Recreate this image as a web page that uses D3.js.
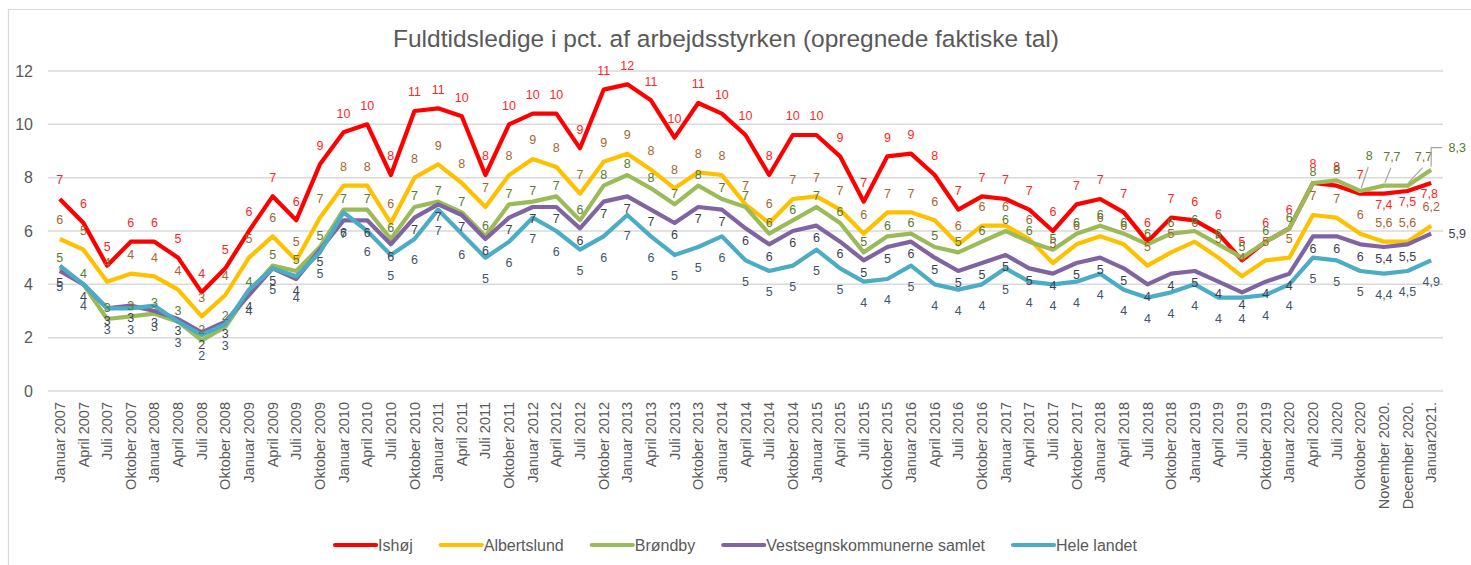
<!DOCTYPE html>
<html>
<head>
<meta charset="utf-8">
<script src="https://cdn.jsdelivr.net/npm/d3@7"></script>
<style>
  body { margin: 0; background: #fff; }
  text { font-family: "Liberation Sans", Arial, sans-serif; }
</style>
</head>
<body>
<div class="container"></div>
<script>
// ===== DATA =====
var quarters = ["Januar", "April", "Juli", "Oktober"];
var categories = [];
for (var yr = 2007; yr <= 2020; yr++) {
  quarters.forEach(function(q) { categories.push(q + " " + yr); });
}
categories.push("November 2020.", "December 2020.", "Januar2021.");

var seriesNames = ["Ishøj", "Albertslund", "Brøndby", "Vestsegnskommunerne samlet", "Hele landet"];

var ishoj = [7.2, 6.3, 4.7, 5.6, 5.6, 5.0, 3.7, 4.6, 6.0, 7.3, 6.4,
  8.5, 9.7, 10.0, 8.1, 10.5, 10.6, 10.3, 8.1, 10.0, 10.4, 10.4,
  9.1, 11.3, 11.5, 10.9, 9.5, 10.8, 10.4, 9.6, 8.1, 9.6, 9.6, 8.8,
  7.1, 8.8, 8.9, 8.1, 6.8, 7.3, 7.2, 6.8, 6.0, 7.0, 7.2, 6.7,
  5.6, 6.5, 6.4, 5.9, 4.9, 5.6, 6.1, 7.8, 7.7, 7.4, 7.4, 7.5, 7.8];
var albertslund = [5.7, 5.3, 4.1, 4.4, 4.3, 3.8, 2.8, 3.6, 5.0, 5.8, 4.9,
  6.5, 7.7, 7.7, 6.3, 8.0, 8.5, 7.8, 6.9, 8.1, 8.7, 8.4,
  7.4, 8.6, 8.9, 8.3, 7.6, 8.2, 8.1, 7.0, 6.3, 7.2, 7.3, 6.8,
  5.9, 6.7, 6.7, 6.4, 5.5, 6.2, 6.2, 5.7, 4.8, 5.5, 5.8, 5.5,
  4.7, 5.2, 5.6, 5.0, 4.3, 4.9, 5.0, 6.6, 6.5, 5.9, 5.6, 5.6, 6.2];
var brondby = [4.6, 4.0, 2.7, 2.8, 2.9, 2.6, 1.9, 2.4, 3.7, 4.7, 4.5,
  5.4, 6.8, 6.8, 5.7, 6.9, 7.1, 6.7, 5.8, 7.0, 7.1, 7.3,
  6.4, 7.7, 8.1, 7.6, 7.0, 7.7, 7.2, 6.9, 5.9, 6.4, 6.9, 6.3,
  5.2, 5.8, 5.9, 5.4, 5.2, 5.6, 6.0, 5.6, 5.3, 5.9, 6.2, 5.9,
  5.5, 5.9, 6.0, 5.5, 5.0, 5.6, 6.1, 7.8, 7.9, 7.5, 7.7, 7.7, 8.3];
var vestegn = [4.5, 4.0, 3.1, 3.2, 3.0, 2.7, 2.2, 2.6, 3.6, 4.6, 4.2,
  5.3, 6.4, 6.4, 5.5, 6.5, 7.0, 6.6, 5.7, 6.5, 6.9, 6.9,
  6.1, 7.1, 7.3, 6.8, 6.3, 6.9, 6.8, 6.1, 5.5, 6.0, 6.2, 5.6,
  4.9, 5.4, 5.6, 5.0, 4.5, 4.8, 5.1, 4.6, 4.4, 4.8, 5.0, 4.6,
  4.0, 4.4, 4.5, 4.1, 3.7, 4.1, 4.4, 5.8, 5.8, 5.5, 5.4, 5.5, 5.9];
var heleLandet = [4.7, 4.0, 3.1, 3.1, 3.2, 2.6, 2.1, 2.5, 3.8, 4.6, 4.3,
  5.2, 6.7, 6.0, 5.1, 5.7, 6.8, 5.9, 5.0, 5.6, 6.5, 6.0,
  5.3, 5.8, 6.6, 5.8, 5.1, 5.4, 5.8, 4.9, 4.5, 4.7, 5.3, 4.6,
  4.1, 4.2, 4.7, 4.0, 3.8, 4.0, 4.6, 4.1, 4.0, 4.1, 4.4, 3.8,
  3.5, 3.7, 4.0, 3.5, 3.5, 3.6, 4.0, 5.0, 4.9, 4.5, 4.4, 4.5, 4.9];

var yTicks = [0, 2, 4, 6, 8, 10, 12];

var allSeries = [ishoj, albertslund, brondby, vestegn, heleLandet];

// ===== STYLE =====
var lineColors = ["#FF0000", "#FFC000", "#9BBB59", "#8064A2", "#4BACC6"];
var labelColors = ["#FF2525", "#A5662F", "#5B7A2E", "#3F3F4F", "#44546A"];
var labelDy = [-19, -19, -11, 12, 21];

var W = 1471, H = 565;
var svg = d3.select(".container").append("svg")
  .attr("width", W).attr("height", H);

svg.append("rect").attr("width", W).attr("height", H).attr("fill", "#fff");

// chart border (only top/left visible in the crop)
svg.append("path")
  .attr("d", "M8.5," + H + "V9.5H" + W)
  .attr("fill", "none").attr("stroke", "#d9d9d9").attr("stroke-width", 1.2);

var xScale = d3.scaleBand().domain(categories).range([48, 1443]);
var yScale = d3.scaleLinear().domain([0, 12]).range([391, 71]);
var xc = function(i) { return xScale(categories[i]) + xScale.bandwidth() / 2; };

// grid
svg.append("g").selectAll("line").data(yTicks).enter().append("line")
  .attr("x1", 48).attr("x2", 1443)
  .attr("y1", function(d) { return yScale(d); })
  .attr("y2", function(d) { return yScale(d); })
  .attr("stroke", "#d9d9d9").attr("stroke-width", 1.5);

// y axis labels
var yAxis = d3.axisLeft(yScale).tickValues(yTicks).tickSize(0).tickPadding(0);
var yG = svg.append("g").attr("transform", "translate(33,0)").call(yAxis);
yG.select(".domain").remove();
yG.selectAll("text").style("font-size", "16px").attr("fill", "#595959")
  .style("font-family", "Liberation Sans, Arial, sans-serif");

// x axis labels
var xAxis = d3.axisBottom(xScale).tickSize(0).tickPadding(0);
var xG = svg.append("g").attr("transform", "translate(0,391)").call(xAxis);
xG.select(".domain").remove();
xG.selectAll("text")
  .style("font-size", "14.5px").attr("fill", "#595959")
  .style("font-family", "Liberation Sans, Arial, sans-serif")
  .attr("text-anchor", "end")
  .attr("transform", "translate(0,11) rotate(-90)")
  .attr("x", 0).attr("y", 0).attr("dy", "0.35em");

// title
svg.append("text")
  .attr("x", 726).attr("y", 47)
  .attr("text-anchor", "middle")
  .style("font-size", "24.5px").attr("fill", "#595959")
  .text("Fuldtidsledige i pct. af arbejdsstyrken (opregnede faktiske tal)");

// lines
var line = d3.line()
  .x(function(d, i) { return xc(i); })
  .y(function(d) { return yScale(d); });

allSeries.forEach(function(s, k) {
  svg.append("path").datum(s)
    .attr("d", line)
    .attr("fill", "none")
    .attr("stroke", lineColors[k])
    .attr("stroke-width", 4.2)
    .attr("stroke-linejoin", "round");
});

// data labels: integers, last three months with one decimal
var fmtLabel = function(v, i) {
  if (i >= 56) return v.toFixed(1).replace(".", ",");
  return String(Math.round(v + 1e-9));
};

// a few labels in the original were moved by hand
var placeOverride = {
  "0-56": [0, 11], "0-57": [0, 11], "0-58": [-2, 11],
  "2-55": [9, -35], "2-56": [8, -29], "2-57": [16, -29], "2-58": [26, -22],
  "3-58": [26, 0]
};
var leaders = {
  "2-55": [[1, -3], [8, -24]],
  "2-56": [[1, -3], [7, -18]],
  "2-57": [[1, -3], [15, -18]],
  "2-58": [[0, -3], [0, -22], [11, -22]]
};

allSeries.forEach(function(s, k) {
  var g = svg.append("g");
  s.forEach(function(v, i) {
    var key = k + "-" + i;
    var x = xc(i), y = yScale(v);
    var off = placeOverride[key] || [0, labelDy[k]];
    if (leaders[key]) {
      g.append("polyline")
        .attr("points", leaders[key].map(function(p) { return (x + p[0]) + "," + (y + p[1]); }).join(" "))
        .attr("fill", "none").attr("stroke", "#a6a6a6").attr("stroke-width", 1.2);
    }
    g.append("text")
      .attr("x", x + off[0]).attr("y", y + off[1])
      .attr("dy", "0.35em")
      .attr("text-anchor", "middle")
      .style("font-size", "12.5px")
      .attr("fill", labelColors[k])
      .text(fmtLabel(v, i));
  });
});

// legend
var legend = svg.append("g");
var lx = 0;
seriesNames.forEach(function(name, k) {
  var item = legend.append("g").attr("transform", "translate(" + lx + ",0)");
  item.append("line").attr("x1", 0).attr("x2", 41).attr("y1", 0).attr("y2", 0)
    .attr("stroke", lineColors[k]).attr("stroke-width", 4.2).attr("stroke-linecap", "round");
  var t = item.append("text").attr("x", 43).attr("y", 0).attr("dy", "0.35em")
    .style("font-size", "16px").attr("fill", "#595959").text(name);
  lx += 43 + t.node().getComputedTextLength() + 28;
});
lx -= 28;
legend.attr("transform", "translate(" + (736 - lx / 2) + ",545)");
</script>
</body>
</html>
